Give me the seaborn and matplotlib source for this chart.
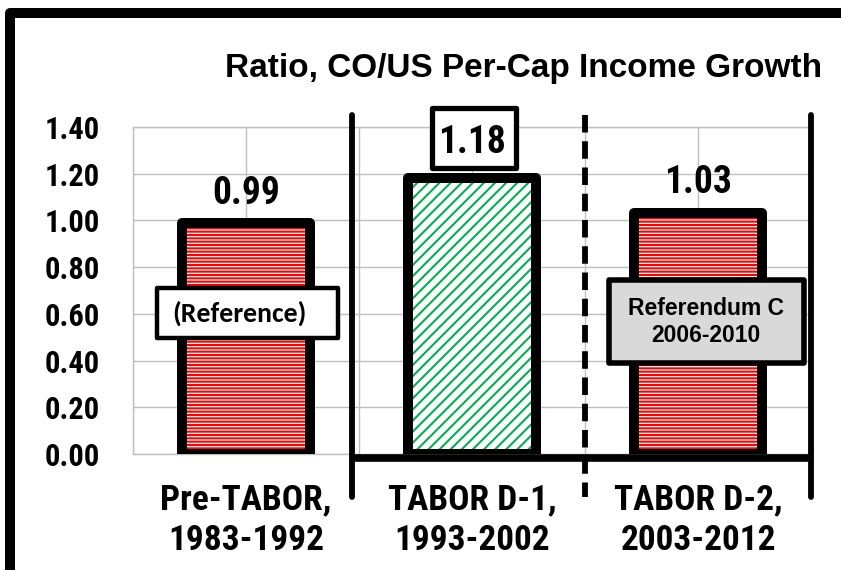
"""Ratio, CO/US per-capita income growth across three TABOR periods."""
import matplotlib
matplotlib.use("Agg")
import matplotlib.pyplot as plt
from matplotlib.patches import Rectangle
import seaborn as sns

# data
periods = ["Pre-TABOR,\n1983-1992", "TABOR D-1,\n1993-2002", "TABOR D-2,\n2003-2012"]
ratios = [0.99, 1.18, 1.03]
hatch_colors = ["#FF0000", "#00B050", "#FF0000"]
hatches = ["-----", "///", "-----"]
y_ticks = [0.0, 0.2, 0.4, 0.6, 0.8, 1.0, 1.2, 1.4]

sns.set_theme(style="white")
NARROW = ["Roboto Condensed", "Archivo Narrow", "DejaVu Sans"]
WIDE = ["Liberation Sans", "DejaVu Sans"]
plt.rcParams["font.family"] = NARROW
plt.rcParams["text.color"] = "black"
plt.rcParams["hatch.linewidth"] = 1.5

fig = plt.figure(figsize=(8.41, 5.70), dpi=100)
ax = fig.add_axes([133 / 841, 1 - 454 / 570, 678 / 841, 327 / 570])

# hatch layer
sns.barplot(x=periods, y=ratios, ax=ax, color="white", width=0.57,
            linewidth=0, errorbar=None, zorder=2)
for p, hc, h in zip(ax.patches, hatch_colors, hatches):
    p.set_facecolor("white")
    p.set_edgecolor(hc)
    p.set_hatch(h)
n_hatch = len(ax.patches)

# outline layer
sns.barplot(x=periods, y=ratios, ax=ax, fill=False, width=0.57,
            edgecolor="black", linewidth=7.2, errorbar=None, zorder=3)
for p in ax.patches[n_hatch:]:
    p.set_joinstyle("round")

ax.set_xlim(-0.5, 2.5)
ax.set_ylim(0, 1.4)
ax.set_yticks(y_ticks)
ax.set_yticklabels([f"{t:.2f}" for t in y_ticks])
ax.set_xticks([-0.5, 0.5, 1.5, 2.5], minor=True)
ax.grid(True, which="both", color="#BFBFBF", linewidth=1.0)
ax.set_axisbelow(True)
for side, s in ax.spines.items():
    s.set_visible(side != "right")
    s.set_color("#BFBFBF")
    s.set_linewidth(1.0)
ax.tick_params(axis="y", which="both", length=0, pad=24, labelsize=22,
               labelcolor="black")
ax.tick_params(axis="x", which="both", length=0, pad=21, labelsize=25.5,
               labelcolor="black")
for lab in ax.get_yticklabels() + ax.get_xticklabels():
    lab.set_fontweight("bold")
    lab.set_family(NARROW)
for lab in ax.get_xticklabels():
    lab.set_linespacing(1.3)
ax.set_xlabel("")
ax.set_ylabel("")

# value labels (baseline offsets above each bar)
offsets = [0.08, 0.109, 0.087]
for i, (v, off) in enumerate(zip(ratios, offsets)):
    ax.text(i, v + off, f"{v:.2f}", ha="center", va="baseline", fontsize=27,
            fontweight="bold", family=NARROW, zorder=6)
# box around the D-1 value
ax.add_patch(Rectangle((1.009 - 0.186, ratios[1] + 0.044), 0.372, 0.257,
                       facecolor="white", edgecolor="black", linewidth=3.8,
                       joinstyle="round", clip_on=False, zorder=5))

# annotation boxes
ax.add_patch(Rectangle((-0.394, 0.497), 0.801, 0.214, facecolor="white",
                       edgecolor="black", linewidth=3.2, zorder=5,
                       joinstyle="round"))
ax.text(-0.03, 0.604, "(Reference)", ha="center", va="center", fontsize=20,
        fontweight="bold", family=["Carlito", "DejaVu Sans"], zorder=6)
ax.add_patch(Rectangle((1.605, 0.39), 0.863, 0.355, facecolor="#D9D9D9",
                       edgecolor="black", linewidth=4, zorder=5,
                       joinstyle="round"))
ax.text(2.036, 0.567, "Referendum C\n2006-2010", ha="center", va="center",
        fontsize=16.5, fontweight="bold", family=WIDE, linespacing=1.22,
        zorder=6)

# period separators
for xs, ls in [(0.47, "-"), (1.5, (0, (3, 1.5))), (2.5, "-")]:
    ax.plot([xs, xs], [1.451, -0.184], color="black", linewidth=4.2,
            linestyle=ls, clip_on=False, zorder=4)
ax.plot([0.47, 2.5], [-0.017, -0.017], color="black", linewidth=5.5,
        clip_on=False, zorder=4, solid_capstyle="butt")

# title
fig.text(524 / 841, 1 - 77 / 570, "Ratio, CO/US Per-Cap Income Growth",
         ha="center", va="baseline", fontsize=24, fontweight="bold",
         family=WIDE)

# outer frame (top and left edges)
fig.add_artist(Rectangle((10 / 841, -0.5), 2.0, 1.5 - 13 / 570,
                         transform=fig.transFigure, fill=False,
                         edgecolor="black", linewidth=7.2, joinstyle="round"))

fig.savefig("out.png", dpi=100)
